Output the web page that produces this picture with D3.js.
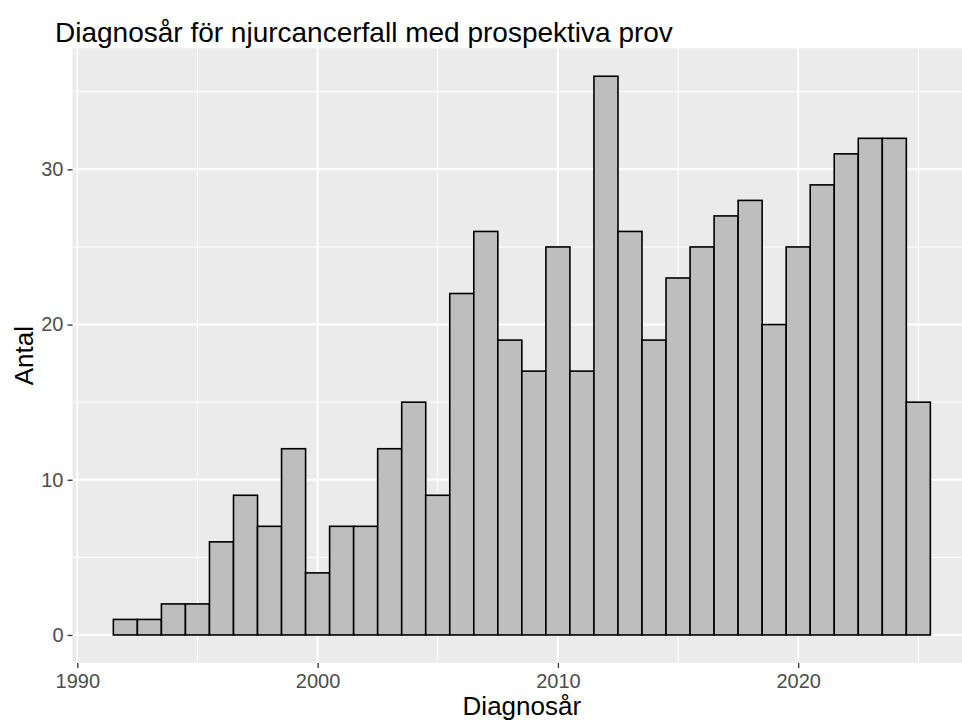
<!DOCTYPE html>
<html>
<head>
<meta charset="utf-8">
<script src="https://cdn.jsdelivr.net/npm/d3@7"></script>
<style>
  html, body { margin: 0; padding: 0; background: #fff; }
  svg { display: block; font-family: "Liberation Sans", Arial, sans-serif; }
</style>
</head>
<body>
<svg id="chart" width="962" height="724"></svg>
<script>
const titleText = "Diagnosår för njurcancerfall med prospektiva prov";
const xTitle = "Diagnosår";
const yTitle = "Antal";
const years = [1992,1993,1994,1995,1996,1997,1998,1999,2000,2001,2002,2003,2004,2005,2006,2007,2008,2009,2010,2011,2012,2013,2014,2015,2016,2017,2018,2019,2020,2021,2022,2023,2024,2025];
const counts = [1,1,2,2,6,9,7,12,4,7,7,12,15,9,22,26,19,17,25,17,36,26,19,23,25,27,28,20,25,29,31,32,32,15];
const xMajor = [1990, 2000, 2010, 2020];
const xMinor = [1995, 2005, 2015, 2025];
const yMajor = [0, 10, 20, 30];
const yMinor = [5, 15, 25, 35];
const binWidth = 1;

const svg = d3.select("#chart");
const W = 962, H = 724;
const panel = { left: 72.5, right: 971.2, top: 48.3, bottom: 662.9 };

const xMin = d3.min(years) - binWidth / 2, xMax = d3.max(years) + binWidth / 2;
const xPad = (xMax - xMin) * 0.05;
const yMaxV = d3.max(counts);
const yPad = yMaxV * 0.05;

const x = d3.scaleLinear().domain([xMin - xPad, xMax + xPad]).range([panel.left, panel.right]);
const y = d3.scaleLinear().domain([-yPad, yMaxV + yPad]).range([panel.bottom, panel.top]);

svg.append("rect").attr("width", W).attr("height", H).attr("fill", "#fff");
svg.append("rect")
  .attr("x", panel.left).attr("y", panel.top)
  .attr("width", panel.right - panel.left).attr("height", panel.bottom - panel.top)
  .attr("fill", "#EBEBEB");

const grid = svg.append("g");
grid.selectAll(".ymin").data(yMinor).join("line")
  .attr("x1", panel.left).attr("x2", panel.right)
  .attr("y1", d => y(d)).attr("y2", d => y(d))
  .attr("stroke", "#fff").attr("stroke-width", 1);
grid.selectAll(".xmin").data(xMinor).join("line")
  .attr("y1", panel.top).attr("y2", panel.bottom)
  .attr("x1", d => x(d)).attr("x2", d => x(d))
  .attr("stroke", "#fff").attr("stroke-width", 1);
grid.selectAll(".ymaj").data(yMajor).join("line")
  .attr("x1", panel.left).attr("x2", panel.right)
  .attr("y1", d => y(d)).attr("y2", d => y(d))
  .attr("stroke", "#fff").attr("stroke-width", 2);
grid.selectAll(".xmaj").data(xMajor).join("line")
  .attr("y1", panel.top).attr("y2", panel.bottom)
  .attr("x1", d => x(d)).attr("x2", d => x(d))
  .attr("stroke", "#fff").attr("stroke-width", 2);

svg.append("g").selectAll("rect").data(years.map((yr, i) => ({ yr, c: counts[i] }))).join("rect")
  .attr("x", d => x(d.yr - binWidth / 2))
  .attr("width", d => x(d.yr + binWidth / 2) - x(d.yr - binWidth / 2))
  .attr("y", d => y(d.c))
  .attr("height", d => y(0) - y(d.c))
  .attr("fill", "#BEBEBE")
  .attr("stroke", "#000")
  .attr("stroke-width", 1.6);

const xAxis = svg.append("g").attr("transform", `translate(0,${panel.bottom})`)
  .call(d3.axisBottom(x).tickValues(xMajor).tickFormat(d3.format("d")).tickSizeOuter(0).tickSize(5).tickPadding(6));
xAxis.select(".domain").remove();
xAxis.selectAll(".tick line").attr("stroke", "#333").attr("stroke-width", 1.3);
xAxis.selectAll(".tick text").attr("fill", "#4D4D4D").attr("font-size", 20).attr("font-family", "Liberation Sans, Arial, sans-serif");

const yAxis = svg.append("g").attr("transform", `translate(${panel.left},0)`)
  .call(d3.axisLeft(y).tickValues(yMajor).tickFormat(d3.format("d")).tickSizeOuter(0).tickSize(5).tickPadding(4));
yAxis.select(".domain").remove();
yAxis.selectAll(".tick line").attr("stroke", "#333").attr("stroke-width", 1.3);
yAxis.selectAll(".tick text").attr("fill", "#4D4D4D").attr("font-size", 20).attr("font-family", "Liberation Sans, Arial, sans-serif");

svg.append("text").attr("x", 55).attr("y", 42)
  .attr("font-size", 28).attr("fill", "#000").text(titleText);

svg.append("text").attr("x", (panel.left + panel.right) / 2).attr("y", 715)
  .attr("text-anchor", "middle").attr("font-size", 26).attr("fill", "#000").text(xTitle);

svg.append("text").attr("transform", `translate(33,${(panel.top + panel.bottom) / 2}) rotate(-90)`)
  .attr("text-anchor", "middle").attr("font-size", 26).attr("fill", "#000").text(yTitle);
</script>
</body>
</html>
